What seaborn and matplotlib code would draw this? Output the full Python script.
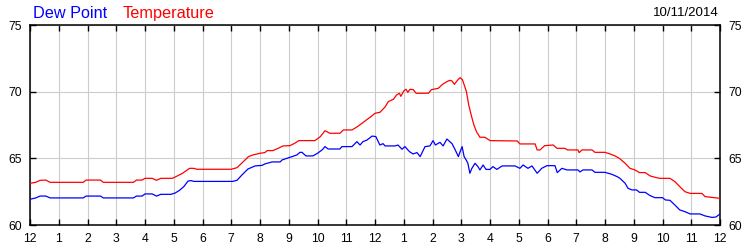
import matplotlib
matplotlib.use("Agg")
import matplotlib.pyplot as plt
import seaborn as sns
import pandas as pd

# ---- data (hours after midnight, degrees F) ----
temp_hours = [0.0, 0.2, 0.35, 0.55, 0.7, 1.85, 1.95, 2.45, 2.55, 3.6, 3.7, 3.9, 4.0, 4.25, 4.4, 4.55, 4.95,
              5.05, 5.3, 5.55, 5.7, 5.8, 7.0, 7.2, 7.42, 7.6, 7.75, 8.0, 8.17, 8.25, 8.45, 8.63, 8.8, 9.04,
              9.2, 9.35, 9.91, 10.1, 10.26, 10.43, 10.78, 10.9, 11.2, 11.37, 11.55, 11.7, 11.83, 12.0, 12.17,
              12.35, 12.46, 12.64, 12.75, 12.85, 12.9, 13.0, 13.08, 13.14, 13.22, 13.33, 13.43, 13.86, 13.96,
              14.2, 14.35, 14.5, 14.6, 14.68, 14.76, 14.88, 14.96, 15.04, 15.12, 15.18, 15.26, 15.36, 15.44,
              15.53, 15.65, 15.82, 16.0, 16.95, 17.04, 17.57, 17.64, 17.74, 17.9, 18.2, 18.33, 18.6, 18.7,
              19.06, 19.1, 19.2, 19.55, 19.65, 20.0, 20.17, 20.35, 20.5, 20.7, 20.87, 21.04, 21.2, 21.4,
              21.57, 21.74, 21.9, 22.26, 22.43, 22.6, 22.78, 22.96, 23.37, 23.48, 24.0]
temp_values = [63.13, 63.2, 63.35, 63.37, 63.2, 63.2, 63.37, 63.37, 63.2, 63.2, 63.37, 63.37, 63.5, 63.5, 63.35,
               63.5, 63.5, 63.6, 63.87, 64.25, 64.25, 64.18, 64.18, 64.3, 64.75, 65.13, 65.25, 65.38, 65.43,
               65.58, 65.58, 65.75, 65.93, 65.95, 66.12, 66.33, 66.33, 66.63, 67.07, 66.88, 66.88, 67.13, 67.13,
               67.35, 67.63, 67.88, 68.08, 68.38, 68.45, 68.85, 69.25, 69.43, 69.75, 69.88, 69.65, 70.05, 70.18,
               69.95, 70.18, 70.15, 69.88, 69.88, 70.15, 70.25, 70.55, 70.75, 70.85, 70.8, 70.55, 70.88, 71.05,
               70.9, 70.4, 70.0, 69.0, 68.13, 67.5, 67.0, 66.58, 66.58, 66.33, 66.3, 66.08, 66.08, 65.63, 65.63,
               65.95, 66.0, 65.75, 65.75, 65.63, 65.63, 65.43, 65.63, 65.63, 65.45, 65.45, 65.33, 65.18, 65.0,
               64.63, 64.25, 64.13, 63.93, 63.93, 63.68, 63.58, 63.5, 63.5, 63.25, 62.88, 62.5, 62.37, 62.37,
               62.13, 62.0]

dew_hours = [0.0, 0.2, 0.35, 0.55, 0.7, 1.85, 1.95, 2.45, 2.55, 3.6, 3.7, 3.9, 4.0, 4.25, 4.4, 4.55, 4.9, 5.05,
             5.2, 5.35, 5.5, 5.6, 5.7, 7.05, 7.2, 7.37, 7.58, 7.83, 8.07, 8.17, 8.42, 8.7, 8.77, 9.04, 9.28,
             9.39, 9.46, 9.6, 9.84, 10.0, 10.16, 10.26, 10.37, 10.78, 10.85, 11.2, 11.37, 11.48, 11.58, 11.72,
             11.9, 12.03, 12.17, 12.28, 12.35, 12.7, 12.8, 12.94, 13.04, 13.2, 13.32, 13.46, 13.57, 13.74,
             13.91, 14.02, 14.1, 14.26, 14.37, 14.5, 14.68, 14.78, 14.9, 14.96, 15.03, 15.1, 15.17, 15.23,
             15.3, 15.37, 15.48, 15.58, 15.65, 15.76, 15.86, 16.0, 16.1, 16.24, 16.42, 16.87, 17.04, 17.15,
             17.32, 17.46, 17.64, 17.8, 17.98, 18.26, 18.34, 18.5, 18.68, 19.06, 19.13, 19.23, 19.55, 19.65,
             20.0, 20.24, 20.42, 20.52, 20.7, 20.8, 20.94, 21.1, 21.2, 21.4, 21.57, 21.74, 22.0, 22.1, 22.26,
             22.43, 22.6, 22.78, 22.96, 23.3, 23.48, 23.72, 23.86, 24.0]
dew_values = [61.93, 62.03, 62.17, 62.17, 62.03, 62.03, 62.17, 62.17, 62.03, 62.03, 62.17, 62.17, 62.33, 62.33,
              62.17, 62.3, 62.3, 62.4, 62.6, 62.88, 63.3, 63.33, 63.27, 63.27, 63.35, 63.75, 64.2, 64.43, 64.47,
              64.58, 64.73, 64.73, 64.88, 65.08, 65.25, 65.45, 65.45, 65.18, 65.18, 65.38, 65.63, 65.88, 65.7,
              65.7, 65.88, 65.88, 66.25, 66.0, 66.25, 66.37, 66.67, 66.63, 66.0, 66.1, 65.93, 65.93, 66.0,
              65.68, 65.88, 65.5, 65.33, 65.43, 65.13, 65.88, 65.93, 66.33, 66.0, 66.2, 65.93, 66.45, 66.1,
              65.68, 65.13, 65.5, 65.88, 65.13, 64.88, 64.63, 63.88, 64.25, 64.63, 64.38, 64.13, 64.5, 64.17,
              64.17, 64.38, 64.17, 64.43, 64.43, 64.25, 64.5, 64.25, 64.43, 63.88, 64.25, 64.45, 64.45, 63.93,
              64.25, 64.13, 64.13, 63.98, 64.13, 64.13, 63.95, 63.95, 63.8, 63.63, 63.5, 63.13, 62.75, 62.63,
              62.63, 62.45, 62.45, 62.2, 62.05, 62.05, 61.88, 61.85, 61.5, 61.13, 61.0, 60.83, 60.83, 60.68,
              60.57, 60.6, 60.83]

hour_ticks = list(range(0, 25))
hour_labels = ["12", "1", "2", "3", "4", "5", "6", "7", "8", "9", "10", "11",
               "12", "1", "2", "3", "4", "5", "6", "7", "8", "9", "10", "11", "12"]
y_ticks = [60, 65, 70, 75]
legend_labels = ["Dew Point", "Temperature"]
date_label = "10/11/2014"

# ---- style ----
sns.set_style("white")
plt.rcParams["font.family"] = ["Liberation Sans", "DejaVu Sans"]

fig = plt.figure(figsize=(7.5, 2.5), dpi=100)
ax = fig.add_axes([30 / 750, 25 / 250, 690 / 750, 200 / 250])

temp_df = pd.DataFrame({"hour": temp_hours, "value": temp_values})
dew_df = pd.DataFrame({"hour": dew_hours, "value": dew_values})

sns.lineplot(data=dew_df, x="hour", y="value", ax=ax, color="#0000ff", linewidth=0.9,
             estimator=None, sort=False, zorder=3)
sns.lineplot(data=temp_df, x="hour", y="value", ax=ax, color="#ff0000", linewidth=0.9,
             estimator=None, sort=False, zorder=3)

ax.set_xlim(0, 24)
ax.set_ylim(60, 75)
ax.set_xlabel("")
ax.set_ylabel("")
ax.set_xticks(hour_ticks)
ax.set_xticklabels(hour_labels)
ax.set_yticks(y_ticks)
ax.set_yticklabels([str(v) for v in y_ticks])

ax.grid(True, color="#cccccc", linewidth=0.8, zorder=0)
ax.set_axisbelow(True)
for s in ax.spines.values():
    s.set_color("black")
    s.set_linewidth(1.1)
    s.set_visible(True)

ax.tick_params(axis="x", which="both", direction="in", length=4, width=1.0, color="black",
               top=True, bottom=True, labelsize=8.8, labelcolor="black", pad=6)
ax.tick_params(axis="y", which="both", direction="in", length=4, width=1.0, color="black",
               left=True, right=True, labelleft=True, labelright=True, labelsize=8.8,
               labelcolor="black", pad=6)

fig.text(33 / 750, 1 - 18 / 250, legend_labels[0], color="#0000ff", fontsize=11.7, va="baseline", ha="left")
fig.text(123 / 750, 1 - 18 / 250, legend_labels[1], color="#ff0000", fontsize=11.7, va="baseline", ha="left")
fig.text(719 / 750, 1 - 16 / 250, date_label, color="black", fontsize=9.5, va="baseline", ha="right")

fig.savefig("out.png", dpi=100)
